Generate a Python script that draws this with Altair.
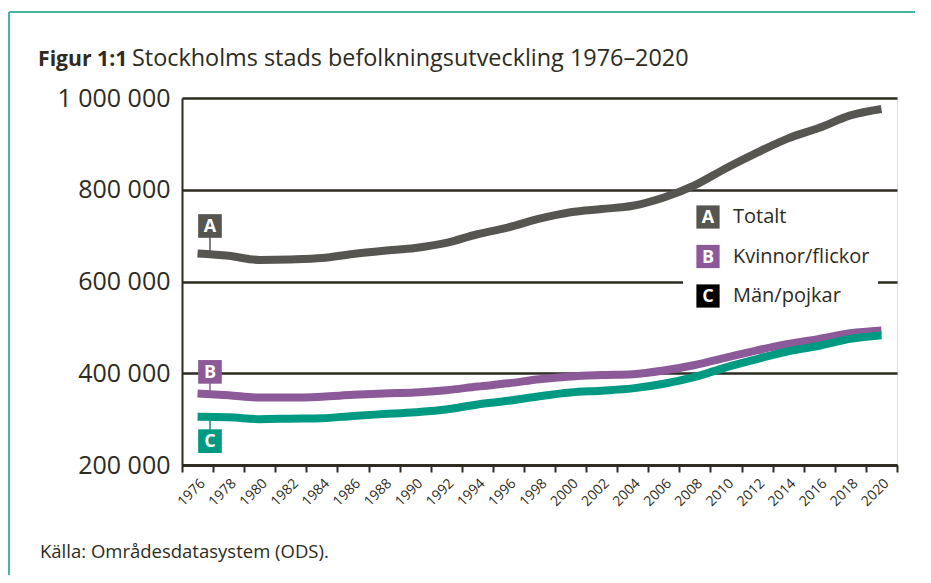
import altair as alt
import pandas as pd

# ---- data ----
years = list(range(1976, 2021, 2))
totalt = [661000, 656000, 647000, 648000, 651000, 660000, 667000, 673000, 684000, 703000,
          718000, 737000, 751000, 758000, 765000, 783000, 810000, 847000, 881000, 912000,
          935000, 962000, 976000]
kvinnor = [356000, 352000, 347000, 347000, 349000, 353000, 356000, 358000, 363000, 371000,
           378000, 387000, 393000, 396000, 398000, 406000, 418000, 434000, 450000, 464000,
           475000, 487000, 493000]
man = [305000, 304000, 300000, 301000, 302000, 307000, 311000, 315000, 321000, 332000,
       340000, 350000, 358000, 362000, 367000, 377000, 392000, 413000, 431000, 448000,
       460000, 475000, 483000]

series_names = ["Totalt", "Kvinnor/flickor", "Män/pojkar"]
series_letters = ["A", "B", "C"]
series_colors = ["#57554f", "#8c5a99", "#009a82"]
legend_box_colors = ["#57554f", "#8c5a99", "#000000"]
box_values = [721000, 403000, 252000]   # y value of the letter boxes next to the lines
y_ticks = [200000, 400000, 600000, 800000, 1000000]

title_bold = "Figur 1:1"
title_rest = "Stockholms stads befolkningsutveckling 1976–2020"
source_text = "Källa: Områdesdatasystem (ODS)."

FONT = "Open Sans"
DARK = "#2d2b22"
W, H = 715, 367

xscale = alt.Scale(type="band", paddingInner=0, paddingOuter=0)
yscale = alt.Scale(domain=[200000, 1000000], nice=False, zero=False)

xaxis = alt.Axis(title=None, labelAngle=-45, labelFontSize=14, labelFont=FONT, labelColor=DARK,
                 tickBand="extent", tickSize=7, tickWidth=2, tickColor=DARK,
                 domainColor=DARK, domainWidth=3, labelPadding=4, grid=False)
yaxis = alt.Axis(title=None, values=y_ticks, grid=True, gridColor=DARK, gridWidth=2.5,
                 ticks=False, domainColor=DARK, domainWidth=2,
                 labelExpr="datum.value >= 1000000 ? '1 000 000' : format(datum.value/1000, 'd') + ' 000'",
                 labelFontSize=25, labelFont=FONT, labelColor=DARK, labelPadding=12)

series_values = [totalt, kvinnor, man]
line_layers = []
for i in [0, 1, 2]:
    df = pd.DataFrame({"year": years, "value": series_values[i]})
    enc = dict(
        x=alt.X("year:O", scale=xscale, axis=xaxis, bandPosition=0.5),
        y=alt.Y("value:Q", scale=yscale, axis=yaxis),
    )
    line_layers.append(
        alt.Chart(df).mark_line(color=series_colors[i], strokeWidth=8, strokeCap="butt",
                                interpolate="monotone").encode(**enc)
    )

annot = pd.DataFrame({
    "year": [years[0]] * 3,
    "box": box_values,
    "line": [totalt[0], kvinnor[0], man[0]],
    "letter": series_letters,
    "farg": series_colors,
})
ax = alt.X("year:O", scale=xscale, axis=xaxis, bandPosition=0.9)
connectors = alt.Chart(annot).mark_rule(strokeWidth=1.5).encode(
    x=ax, y=alt.Y("box:Q", scale=yscale, axis=yaxis), y2="line:Q",
    color=alt.Color("farg:N", scale=None))
boxes = alt.Chart(annot).mark_square(size=560, opacity=1).encode(
    x=ax, y=alt.Y("box:Q", scale=yscale, axis=yaxis),
    color=alt.Color("farg:N", scale=None))
letters = alt.Chart(annot).mark_text(color="white", fontSize=18, fontWeight="bold", font=FONT,
                                     baseline="middle", align="center", dy=1).encode(
    x=ax, y=alt.Y("box:Q", scale=yscale, axis=yaxis), text="letter:N")

one = pd.DataFrame({"k": [0]})

# legend (manual, with letter boxes)
legend_layers = [
    alt.Chart(one).mark_rect(color="white").encode(
        x=alt.value(501), x2=alt.value(696), y=alt.value(104), y2=alt.value(212))
]
for i in range(3):
    ry = 119 + i * 39.5
    legend_layers.append(alt.Chart(one).mark_square(size=540, opacity=1, color=legend_box_colors[i]).encode(
        x=alt.value(526), y=alt.value(ry)))
    legend_layers.append(alt.Chart(one).mark_text(color="white", fontSize=18, fontWeight="bold", font=FONT,
                                                  baseline="middle", align="center", dy=1).encode(
        x=alt.value(526), y=alt.value(ry), text=alt.value(series_letters[i])))
    legend_layers.append(alt.Chart(one).mark_text(color=DARK, fontSize=20, font=FONT,
                                                  baseline="middle", align="left").encode(
        x=alt.value(551), y=alt.value(ry), text=alt.value(series_names[i])))

# title, source, frame
texts = [
    alt.Chart(one).mark_text(color=DARK, fontSize=21.2, font=FONT, fontWeight="bold",
                             align="left", baseline="alphabetic").encode(
        x=alt.value(-144), y=alt.value(-32), text=alt.value(title_bold)),
    alt.Chart(one).mark_text(color=DARK, fontSize=23.4, font=FONT,
                             align="left", baseline="alphabetic").encode(
        x=alt.value(-50), y=alt.value(-32), text=alt.value(title_rest)),
    alt.Chart(one).mark_text(color=DARK, fontSize=18.5, font=FONT,
                             align="left", baseline="alphabetic").encode(
        x=alt.value(-142), y=alt.value(460), text=alt.value(source_text)),
    alt.Chart(one).mark_rule(color="#45b5a5", strokeWidth=2).encode(
        x=alt.value(-173), x2=alt.value(733), y=alt.value(-86)),
    alt.Chart(one).mark_rule(color="#45b5a5", strokeWidth=2).encode(
        x=alt.value(-173), y=alt.value(-86), y2=alt.value(477)),
]

chart = alt.layer(
    *line_layers, connectors, boxes, letters, *legend_layers, *texts
).properties(
    width=W, height=H,
    autosize=alt.AutoSizeParams(type="none"),
    padding={"left": 174, "top": 90, "right": 26, "bottom": 110},
).configure_view(strokeWidth=0).configure(background="white")

chart.save("out.html", embed_options={"renderer": "svg", "actions": False})
